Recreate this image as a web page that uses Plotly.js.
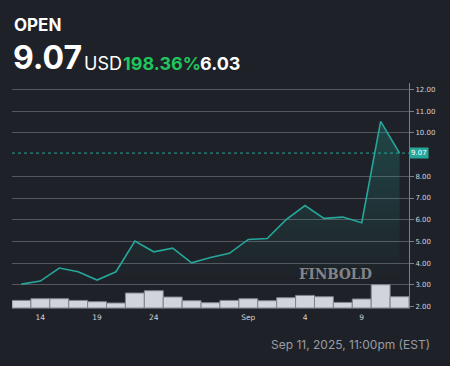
<!DOCTYPE html>
<html>
<head>
<meta charset="utf-8">
<script src="https://cdn.plot.ly/plotly-3.0.1.min.js"></script>
<style>
html,body{margin:0;padding:0;background:#1e2127;}
#chart{width:450px;height:366px;}
</style>
</head>
<body>
<div id="chart"></div>
<script>
// Trading days (categories)
var dates = ["Aug 13","Aug 14","Aug 15","Aug 18","Aug 19","Aug 20","Aug 21","Aug 22","Aug 25","Aug 26","Aug 27","Aug 28","Aug 29","Sep 2","Sep 3","Sep 4","Sep 5","Sep 8","Sep 9","Sep 10","Sep 11"];
// Closing price (USD)
var price = [3.03,3.17,3.77,3.60,3.22,3.60,5.01,4.52,4.69,4.01,4.26,4.45,5.09,5.13,6.00,6.65,6.06,6.12,5.86,10.53,9.07];
// Relative volume (arbitrary units)
var volume = [76,93,93,76,63,50,150,173,110,73,53,76,93,73,103,126,113,56,90,233,113];
// X tick labels
var xTickVals = ["Aug 14","Aug 19","Aug 22","Aug 29","Sep 4","Sep 9"];
var xTickText = ["14","19","24","Sep","4","9"];
// Y tick values (9.00 is hidden behind the last-price label)
var yTickVals = [2,3,4,5,6,7,8,10,11,12];

var lastPrice = price[price.length-1];

var W = 450, H = 366;
var mL = 12, mR = 41, mT = 83, mB = 58;
var pw = W - mL - mR, ph = H - mT - mB;
function px(x){ return (x - mL)/pw; }
function py(y){ return (H - mB - y)/ph; }

var teal = '#26a69a';

var traces = [
  {
    type:'scatter', mode:'lines', x:dates, y:price,
    line:{color:teal, width:1.6},
    fill:'tozeroy',
    fillgradient:{type:'vertical', start:3.0, stop:10.5,
      colorscale:[[0,'rgba(38,166,154,0)'],[1,'rgba(38,166,154,0.28)']]},
    hoverinfo:'skip', showlegend:false
  },
  {
    type:'bar', x:dates, y:volume, yaxis:'y2',
    marker:{color:'#d1d4dc', line:{color:'#80838b', width:1}},
    hoverinfo:'skip', showlegend:false
  }
];

var hdrFont = 'Inter, "Open Sans", sans-serif';

var layout = {
  width:W, height:H,
  margin:{l:mL, r:mR, t:mT, b:mB, pad:0},
  paper_bgcolor:'#1e2127', plot_bgcolor:'#1e2127',
  bargap:0,
  xaxis:{
    type:'category', range:[-0.5, dates.length-0.5],
    tickvals:xTickVals, ticktext:xTickText,
    showgrid:false, zeroline:false,
    showline:true, linecolor:'#5d6067', linewidth:1,
    ticks:'outside', ticklen:2, tickcolor:'rgba(0,0,0,0)',
    tickfont:{family:'"DejaVu Sans", sans-serif', size:7.5, color:'#d1d4dc'}
  },
  yaxis:{
    side:'right', range:[1.93, 12.3],
    tickvals:yTickVals, tickformat:'.2f',
    showgrid:true, gridcolor:'#54575d', gridwidth:1,
    zeroline:false,
    showline:true, linecolor:'#7b7e84', linewidth:1,
    ticks:'outside', ticklen:4, tickcolor:'#7b7e84',
    tickfont:{family:'"DejaVu Sans", sans-serif', size:7, color:'#d1d4dc'}
  },
  yaxis2:{
    overlaying:'y', range:[0, 2253], visible:false, showgrid:false
  },
  shapes:[
    {type:'line', xref:'paper', x0:0, x1:1, yref:'y', y0:lastPrice, y1:lastPrice,
     line:{color:teal, width:1, dash:'dot'}}
  ],
  annotations:[
    {xref:'paper', yref:'y', x:1, y:lastPrice, xanchor:'left', yanchor:'middle',
     text:lastPrice.toFixed(2), showarrow:false, bgcolor:teal, borderpad:1,
     font:{family:'"DejaVu Sans", sans-serif', size:7, color:'#ffffff'}},
    {xref:'paper', yref:'paper', x:px(12), y:py(24.5), xanchor:'left', yanchor:'middle',
     text:'<b>OPEN</b>', showarrow:false, font:{family:hdrFont, size:17, color:'#ffffff'}},
    {xref:'paper', yref:'paper', x:px(10.5), y:py(57.5), xanchor:'left', yanchor:'middle',
     text:'<b>'+lastPrice.toFixed(2)+'</b>', showarrow:false, font:{family:hdrFont, size:32, color:'#ffffff'}},
    {xref:'paper', yref:'paper', x:px(82), y:py(63), xanchor:'left', yanchor:'middle',
     text:'USD', showarrow:false, font:{family:hdrFont, size:18, color:'#ffffff'}},
    {xref:'paper', yref:'paper', x:px(120.5), y:py(63), xanchor:'left', yanchor:'middle',
     text:'<b>198.36%</b>', showarrow:false, font:{family:hdrFont, size:18, color:'#21c55d'}},
    {xref:'paper', yref:'paper', x:px(197.5), y:py(63), xanchor:'left', yanchor:'middle',
     text:'<b>6.03</b>', showarrow:false, font:{family:hdrFont, size:18, color:'#ffffff'}},
    {xref:'paper', yref:'paper', x:px(432), y:py(344), xanchor:'right', yanchor:'middle',
     text:'Sep 11, 2025, 11:00pm (EST)', showarrow:false, font:{family:hdrFont, size:12, color:'#9a9da3'}},
    {xref:'paper', yref:'paper', x:px(335.5), y:py(273.7), xanchor:'center', yanchor:'middle',
     text:'<b>FINBOLD</b>', showarrow:false, font:{family:'"DejaVu Serif Condensed", "Liberation Serif", serif', size:15, color:'#838589'}}
  ]
};

Plotly.newPlot('chart', traces, layout, {displayModeBar:false, staticPlot:true});
</script>
</body>
</html>
